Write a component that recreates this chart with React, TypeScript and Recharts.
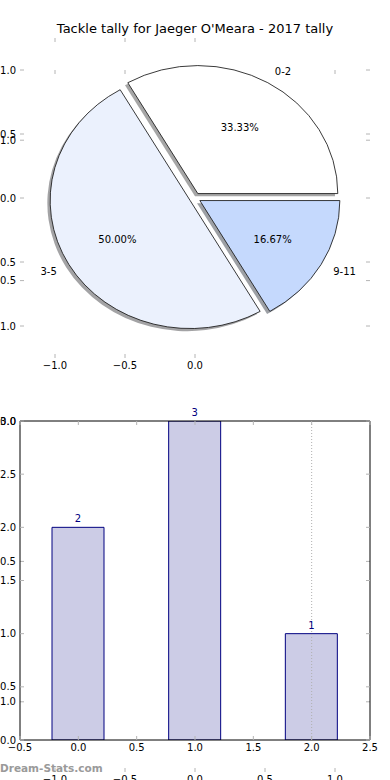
import React from 'react';
import {
  ComposedChart,
  XAxis,
  YAxis,
  Bar,
  LabelList,
  ReferenceLine,
  PieChart,
  Pie,
  Cell,
  Sector,
} from 'recharts';

// ---------- data ----------
const TITLE = "Tackle tally for Jaeger O'Meara - 2017 tally";
const WATERMARK = 'Dream-Stats.com';

const pieLabels = ['0-2', '3-5', '9-11'];
const pieValues = [2, 3, 1];
const pieColors = ['#ffffff', '#ebf1fd', '#c5d9fd'];

const barCategories = [0, 1, 2];
const barValues = [2, 3, 1];

const pieXTicks = [-1, -0.5, 0];
const pieYTicks = [1, 0.5, 0, -0.5, -1];
const ghostXTopTicks = [-1, -0.5, 0, 1];
const ghostXTicks = [-1, -0.5, 0, 0.5, 1];
const ghostYTicks = [1, 0.5, 0, -0.5, -1];
const barXTicks = [-0.5, 0, 0.5, 1, 1.5, 2, 2.5];
const barYTicks = [0, 0.5, 1, 1.5, 2, 2.5, 3];
const unitDomain = [-1.25, 1.25];
const barXDomain = [-0.5, 2.5];
const barYDomain = [0, 3];
const markerX = 2;

const pieData = pieLabels.map((name, i) => ({ name, value: pieValues[i], color: pieColors[i] }));
const barData = barCategories.map((x, i) => ({ x, value: barValues[i] }));
const unitAxisData = unitDomain.map((x) => ({ x, y: x }));

// ---------- style ----------
const FONT = "'DejaVu Sans', sans-serif";
const TICK_COLOR = '#b4b4b4';
const TL = 4;
const FS = 10;
const EXPLODE = 0.04;
const SY = 128 / 140;
const LABEL_DIST = 1.1;
const PCT_DIST = 0.6;
const SHADOW_DX = -2.8;
const SHADOW_DY = 2.6;

const fmt = (v: number) => (v < 0 ? '\u2212' : '') + Math.abs(v).toFixed(1);

const bottomTick = (label: boolean) => (p: any) => (
  <g>
    <line x1={p.x} x2={p.x} y1={p.y} y2={p.y - TL} stroke={TICK_COLOR} strokeWidth={1} />
    {label && (
      <text x={p.x} y={p.y + 11} textAnchor="middle" fontSize={FS} fontFamily={FONT} fill="#000">
        {fmt(p.payload.value)}
      </text>
    )}
  </g>
);
const topTick = (p: any) => (
  <line x1={p.x} x2={p.x} y1={p.y} y2={p.y + TL} stroke={TICK_COLOR} strokeWidth={1} />
);
const leftTick = (p: any) => (
  <g>
    <line x1={p.x} x2={p.x + TL} y1={p.y} y2={p.y} stroke={TICK_COLOR} strokeWidth={1} />
    <text x={p.x - 4} y={p.y + 3.6} textAnchor="end" fontSize={FS} fontFamily={FONT} fill="#000">
      {fmt(p.payload.value)}
    </text>
  </g>
);
const rightTick = (p: any) => (
  <line x1={p.x} x2={p.x - TL} y1={p.y} y2={p.y} stroke={TICK_COLOR} strokeWidth={1} />
);

const layer: React.CSSProperties = { position: 'absolute', left: 0, top: 0 };

function shade(hex: string) {
  const n = parseInt(hex.slice(1), 16);
  const r = Math.round(((n >> 16) & 255) * 0.3);
  const g = Math.round(((n >> 8) & 255) * 0.3);
  const b = Math.round((n & 255) * 0.3);
  return `rgb(${r},${g},${b})`;
}

const makeWedge = (shadow: boolean) => (props: any) => {
  const { cx, cy, outerRadius, startAngle, endAngle, midAngle, payload, index } = props;
  const rad = (midAngle * Math.PI) / 180;
  let dx = EXPLODE * outerRadius * Math.cos(rad);
  let dy = -EXPLODE * outerRadius * SY * Math.sin(rad);
  const base = (payload && payload.color) || pieColors[index] || '#fff';
  if (shadow) {
    dx += SHADOW_DX;
    dy += SHADOW_DY;
  }
  return (
    <g transform={`translate(${cx + dx} ${cy + dy}) scale(1 ${SY}) translate(${-cx} ${-cy})`}>
      <Sector
        cx={cx}
        cy={cy}
        innerRadius={0}
        outerRadius={outerRadius}
        startAngle={startAngle}
        endAngle={endAngle}
        fill={shadow ? shade(base) : base}
        fillOpacity={shadow ? 0.5 : 1}
        stroke={shadow ? 'none' : '#1a1a1a'}
        strokeWidth={shadow ? 0 : 0.9}
      />
    </g>
  );
};

const renderPieLabel = (props: any) => {
  const { cx, cy, midAngle, outerRadius, percent, index, name } = props;
  const rad = (midAngle * Math.PI) / 180;
  const c = Math.cos(rad);
  const s = Math.sin(rad);
  const ox = cx + EXPLODE * outerRadius * c;
  const oy = cy - EXPLODE * outerRadius * SY * s;
  const lx = ox + LABEL_DIST * outerRadius * c;
  const ly = oy - LABEL_DIST * outerRadius * SY * s;
  const px = ox + PCT_DIST * outerRadius * c;
  const py = oy - PCT_DIST * outerRadius * SY * s;
  const label = name ?? pieLabels[index];
  return (
    <g>
      <text x={lx} y={ly + 3.6} textAnchor={c > 0 ? 'start' : 'end'} fontSize={FS} fontFamily={FONT} fill="#000">
        {label}
      </text>
      <text x={px} y={py + 3.6} textAnchor="middle" fontSize={FS} fontFamily={FONT} fill="#000">
        {(percent * 100).toFixed(2)}%
      </text>
    </g>
  );
};

export default function App() {
  return (
    <div style={{ position: 'absolute', left: 0, top: 0, width: 390, height: 780, background: '#fff', overflow: 'hidden' }}>
      {/* stray overlapping axes (-1..1) */}
      <div style={layer}>
        <ComposedChart width={390} height={780} data={unitAxisData} margin={{ top: 40, right: 0, bottom: -22, left: 0 }}>
          <XAxis xAxisId="b" dataKey="x" type="number" orientation="bottom" domain={unitDomain} ticks={ghostXTicks} allowDataOverflow
            interval={0} height={30} tickSize={0} tickMargin={0} axisLine={false} tickLine={false} tick={bottomTick(true)} />
          <XAxis xAxisId="t" dataKey="x" type="number" orientation="top" domain={unitDomain} ticks={ghostXTopTicks} allowDataOverflow
            interval={0} height={30} tickSize={0} tickMargin={0} axisLine={false} tickLine={false} tick={topTick} />
          <YAxis yAxisId="l" type="number" orientation="left" domain={unitDomain} ticks={ghostYTicks} allowDataOverflow
            interval={0} width={20} tickSize={0} tickMargin={0} axisLine={false} tickLine={false} tick={leftTick} />
          <YAxis yAxisId="r" type="number" orientation="right" domain={unitDomain} ticks={ghostYTicks} allowDataOverflow
            interval={0} width={20} tickSize={0} tickMargin={0} axisLine={false} tickLine={false} tick={rightTick} />
        </ComposedChart>
      </div>

      {/* pie axes */}
      <div style={layer}>
        <ComposedChart width={390} height={780} data={unitAxisData} margin={{ top: 8, right: 0, bottom: 392, left: 0 }}>
          <XAxis xAxisId="b" dataKey="x" type="number" orientation="bottom" domain={unitDomain} ticks={pieXTicks} allowDataOverflow
            interval={0} height={30} tickSize={0} tickMargin={0} axisLine={false} tickLine={false} tick={bottomTick(true)} />
          <XAxis xAxisId="t" dataKey="x" type="number" orientation="top" domain={unitDomain} ticks={pieXTicks} allowDataOverflow
            interval={0} height={30} tickSize={0} tickMargin={0} axisLine={false} tickLine={false} tick={topTick} />
          <YAxis yAxisId="l" type="number" orientation="left" domain={unitDomain} ticks={pieYTicks} allowDataOverflow
            interval={0} width={20} tickSize={0} tickMargin={0} axisLine={false} tickLine={false} tick={leftTick} />
          <YAxis yAxisId="r" type="number" orientation="right" domain={unitDomain} ticks={pieYTicks} allowDataOverflow
            interval={0} width={20} tickSize={0} tickMargin={0} axisLine={false} tickLine={false} tick={rightTick} />
        </ComposedChart>
      </div>

      {/* pie */}
      <div style={layer}>
        <PieChart width={390} height={780} margin={{ top: 0, right: 0, bottom: 0, left: 0 }}>
          <Pie data={pieData} dataKey="value" nameKey="name" cx={195} cy={198} outerRadius={140} startAngle={0} endAngle={360}
            isAnimationActive={false} stroke="none" shape={makeWedge(true)} label={false} labelLine={false}>
            {pieData.map((d) => (
              <Cell key={`s-${d.name}`} fill={d.color} />
            ))}
          </Pie>
          <Pie data={pieData} dataKey="value" nameKey="name" cx={195} cy={198} outerRadius={140} startAngle={0} endAngle={360}
            isAnimationActive={false} stroke="none" shape={makeWedge(false)} label={renderPieLabel} labelLine={false}>
            {pieData.map((d) => (
              <Cell key={`p-${d.name}`} fill={d.color} />
            ))}
          </Pie>
        </PieChart>
      </div>

      {/* bar chart */}
      <div style={layer}>
        <ComposedChart width={390} height={780} data={barData} margin={{ top: 391, right: 0, bottom: 10, left: 0 }}>
          <XAxis xAxisId="b" dataKey="x" type="number" orientation="bottom" domain={barXDomain} ticks={barXTicks} allowDataOverflow
            interval={0} height={30} tickSize={0} tickMargin={0} axisLine={{ stroke: '#000' }} tickLine={false} tick={bottomTick(true)} />
          <XAxis xAxisId="t" dataKey="x" type="number" orientation="top" domain={barXDomain} ticks={barXTicks} allowDataOverflow
            interval={0} height={30} tickSize={0} tickMargin={0} axisLine={{ stroke: '#000' }} tickLine={false} tick={topTick} />
          <YAxis yAxisId="l" type="number" orientation="left" domain={barYDomain} ticks={barYTicks} allowDataOverflow
            interval={0} width={20} tickSize={0} tickMargin={0} axisLine={{ stroke: '#000' }} tickLine={false} tick={leftTick} />
          <YAxis yAxisId="r" type="number" orientation="right" domain={barYDomain} ticks={barYTicks} allowDataOverflow
            interval={0} width={20} tickSize={0} tickMargin={0} axisLine={{ stroke: '#000' }} tickLine={false} tick={rightTick} />
          <ReferenceLine xAxisId="b" yAxisId="l" x={markerX} stroke="#b0b0b0" strokeDasharray="1 2" />
          <Bar xAxisId="b" yAxisId="l" dataKey="value" barSize={52} fill="#ccccE6" stroke="#000080" strokeWidth={1}
            isAnimationActive={false}>
            <LabelList dataKey="value" position="top" offset={5} fill="#000080" fontSize={FS} fontFamily={FONT} />
          </Bar>
        </ComposedChart>
      </div>

      {/* title and watermark */}
      <svg width={390} height={780} style={{ ...layer, pointerEvents: 'none' }}>
        <text x={195} y={33} textAnchor="middle" fontSize={13} fontFamily={FONT} fill="#000">
          {TITLE}
        </text>
        <text x={0} y={772} fontSize={10.5} fontWeight="bold" fontFamily={FONT} fill="#9a9a9a">
          {WATERMARK}
        </text>
      </svg>
    </div>
  );
}
